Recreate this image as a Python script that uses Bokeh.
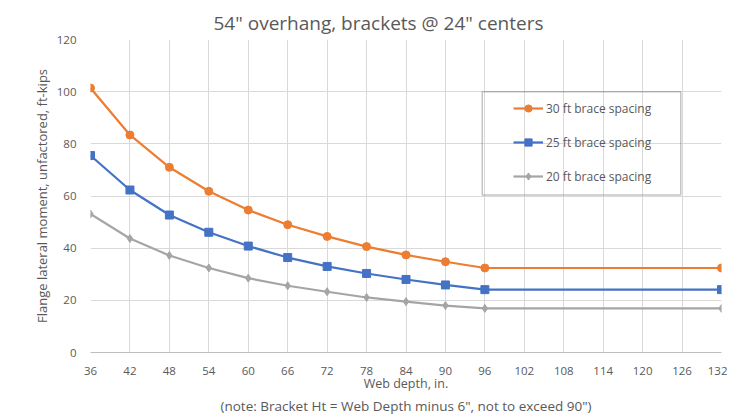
from bokeh.plotting import figure
from bokeh.models import FixedTicker, Legend, LegendItem, BoxAnnotation, Title
from bokeh.embed import file_html
from bokeh.resources import INLINE

web_depth = [36, 42, 48, 54, 60, 66, 72, 78, 84, 90, 96, 132]
brace_30 = [101.4, 83.4, 71.0, 61.8, 54.6, 49.0, 44.5, 40.6, 37.4, 34.8, 32.4, 32.4]
brace_25 = [75.5, 62.3, 52.7, 46.1, 40.8, 36.4, 33.0, 30.3, 28.0, 25.9, 24.1, 24.1]
brace_20 = [53.1, 43.7, 37.2, 32.4, 28.5, 25.6, 23.3, 21.1, 19.5, 18.0, 16.9, 16.9]
x_ticks = list(range(36, 133, 6))
y_ticks = [0, 20, 40, 60, 80, 100, 120]
series_names = ["30 ft brace spacing", "25 ft brace spacing", "20 ft brace spacing"]
title_text = '54" overhang, brackets @ 24" centers'
x_label = "Web depth, in."
y_label = "Flange lateral moment, unfactored, ft-kips"
note_text = '(note: Bracket Ht = Web Depth minus 6", not to exceed 90")'

FONT = "Open Sans"
TXT = "#595959"
ORANGE = "#ED7D31"
BLUE = "#4472C4"
GRAY = "#A5A5A5"

p = figure(width=727, height=414, output_backend="svg", toolbar_location=None,
           x_range=(36, 132), y_range=(0, 120),
           min_border_left=90, min_border_right=6, min_border_top=39, min_border_bottom=20)
p.outline_line_color = None
p.background_fill_color = "white"

p.title.text = title_text
p.title.align = "left"
p.title.offset = 123
p.title.text_font = FONT
p.title.text_font_size = "19px"
p.title.text_font_style = "normal"
p.title.text_color = TXT
p.title.standoff = 7

p.xaxis.ticker = FixedTicker(ticks=x_ticks)
p.yaxis.ticker = FixedTicker(ticks=y_ticks)
for ax in (p.xaxis[0], p.yaxis[0]):
    ax.major_tick_line_color = None
    ax.minor_tick_line_color = None
    ax.major_label_text_font = FONT
    ax.major_label_text_font_size = "11.5px"
    ax.major_label_text_color = TXT
    ax.axis_label_text_font = FONT
    ax.axis_label_text_font_style = "normal"
    ax.axis_label_text_color = TXT
p.xaxis.axis_label_text_font_size = "12.5px"
p.yaxis.axis_label_text_font_size = "13px"
p.xaxis.axis_line_color = "#bfbfbf"
p.yaxis.axis_line_color = None
p.xaxis.major_label_standoff = 8
p.yaxis.major_label_standoff = 8
p.xaxis.axis_label = x_label
p.yaxis.axis_label = y_label
p.xaxis.axis_label_standoff = -3
p.yaxis.axis_label_standoff = 3

p.xgrid.grid_line_color = "#d9d9d9"
p.ygrid.grid_line_color = "#d9d9d9"

note = Title(text=note_text, align="center", text_font=FONT, text_font_size="13.5px",
             text_font_style="normal", text_color=TXT, standoff=0)
p.add_layout(note, "below")

r1 = p.line(web_depth, brace_30, line_color=ORANGE, line_width=2.2)
m1 = p.scatter(web_depth, brace_30, marker="circle", size=8, fill_color=ORANGE, line_color=ORANGE)
r2 = p.line(web_depth, brace_25, line_color=BLUE, line_width=2.2)
m2 = p.scatter(web_depth, brace_25, marker="square", size=8, fill_color=BLUE, line_color=BLUE)
r3 = p.line(web_depth, brace_20, line_color=GRAY, line_width=2.2)
m3 = p.scatter(web_depth, brace_20, marker="diamond", size=8, fill_color=GRAY, line_color=GRAY)

box = BoxAnnotation(left=95.6, right=125.8, bottom=60.4, top=100.0,
                    fill_color=None, fill_alpha=0, line_color="#404040", line_width=1.5)
p.add_layout(box)

legend = Legend(items=[
    LegendItem(label=series_names[0], renderers=[r1, m1]),
    LegendItem(label=series_names[1], renderers=[r2, m2]),
    LegendItem(label=series_names[2], renderers=[r3, m3]),
], location=(423, 167), orientation="vertical")
legend.background_fill_alpha = 0
legend.border_line_color = None
legend.padding = 0
legend.margin = 0
legend.spacing = 16
legend.label_height = 18
legend.glyph_height = 18
legend.glyph_width = 30
legend.label_standoff = 3
legend.label_text_font = FONT
legend.label_text_font_size = "12px"
legend.label_text_color = TXT
p.add_layout(legend)

open("out.html", "w").write(file_html(p, INLINE))
